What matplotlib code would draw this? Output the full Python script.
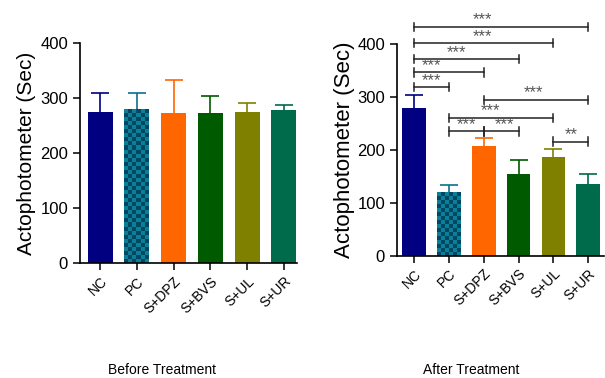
import numpy as np
import matplotlib
matplotlib.use("Agg")
import matplotlib.pyplot as plt

plt.rcParams['font.family'] = ['Liberation Sans', 'DejaVu Sans']

# Data
groups = ["NC", "PC", "S+DPZ", "S+BVS", "S+UL", "S+UR"]
before_mean = [275, 280, 272, 272, 275, 279]
before_err = [34, 30, 60, 31, 16, 9]
after_mean = [280, 120, 208, 155, 187, 135]
after_err = [24, 14, 14, 26, 15, 19]
bar_colors = ["#000080", "#0a6f8c", "#ff6600", "#005a00", "#808000", "#006b4a"]

# significance brackets on the after-treatment panel: (from, to, height, label, label position)
sig_from = [0, 0, 0, 0, 0, 2, 1, 1, 2, 4]
sig_to = [5, 4, 3, 2, 1, 5, 4, 2, 3, 5]
sig_y = [433, 402, 372, 347, 319, 295, 261, 235, 235, 216]
sig_text = ["***", "***", "***", "***", "***", "***", "***", "***", "***", "**"]
sig_pos = [1.95, 1.95, 1.21, 0.5, 0.5, 3.44, 2.2, 1.49, 2.58, 4.52]


def checker_fill(ax, bar, px_per_unit, cell_px=4.0):
    x0, w, h = bar.get_x(), bar.get_width(), bar.get_height()
    nx = 6
    ny = max(1, int(round(h * px_per_unit / cell_px)))
    grid = (np.indices((ny, nx)).sum(axis=0) % 2).astype(float)
    cmap = matplotlib.colors.ListedColormap(["#0b7e9a", "#00485f"])
    im = ax.imshow(grid, cmap=cmap, extent=(x0, x0 + w, 0, h), aspect="auto",
                   interpolation="nearest", zorder=2)
    im.set_clip_path(bar)


def draw_panel(ax, means, errs, xlim, px_per_unit, label_size):
    x = np.arange(len(groups))
    bars = ax.bar(x, means, width=0.68, color=bar_colors, linewidth=0, zorder=2)
    for i, b in enumerate(bars):
        eb = ax.errorbar(x[i], means[i], yerr=[[0], [errs[i]]], fmt="none",
                         ecolor=bar_colors[i], elinewidth=1.2, capsize=6.5, capthick=1.2, zorder=1)
        # only the upper cap is shown
        eb.lines[1][0].set_visible(False)
    checker_fill(ax, bars[1], px_per_unit)
    ax.set_xlim(*xlim)
    ax.set_ylim(0, 400)
    ax.set_yticks([0, 100, 200, 300, 400])
    ax.set_xticks(x)
    ax.set_xticklabels(groups, rotation=45, ha="right", rotation_mode="anchor", fontsize=10)
    ax.tick_params(axis="y", labelsize=12, length=5, width=1.1, direction="out")
    ax.tick_params(axis="x", length=5, width=1.1, direction="out", pad=3)
    ax.set_ylabel("Actophotometer (Sec)", fontsize=label_size)
    for s in ["top", "right"]:
        ax.spines[s].set_visible(False)
    for s in ["left", "bottom"]:
        ax.spines[s].set_linewidth(1.2)
    ax.set_facecolor("none")


fig = plt.figure(figsize=(6.05, 3.78), dpi=100)

ax1 = fig.add_axes([0.132, 0.3042, 0.359, 0.582])
draw_panel(ax1, before_mean, before_err, (-0.55, 5.36), 0.55, 15)
ax1.yaxis.set_label_coords(-0.2, 0.5)

ax2 = fig.add_axes([0.656, 0.3236, 0.342, 0.5592])
draw_panel(ax2, after_mean, after_err, (-0.50, 5.45), 0.528, 16)
ax2.yaxis.set_label_coords(-0.2, 0.5)

tick_h = 8
for a, b, y, t, p in zip(sig_from, sig_to, sig_y, sig_text, sig_pos):
    ax2.plot([a, b], [y, y], color="#222222", lw=1.1, clip_on=False, zorder=3)
    ax2.plot([a, a], [y - tick_h, y + tick_h], color="#222222", lw=1.1, clip_on=False, zorder=3)
    ax2.plot([b, b], [y - tick_h, y + tick_h], color="#222222", lw=1.1, clip_on=False, zorder=3)
    ax2.text(p, y + 13, t, ha="center", va="center", fontsize=12, color="#555555",
             clip_on=False)

fig.text(162 / 605, 1 - 370 / 378, "Before Treatment", ha="center", va="center", fontsize=10)
fig.text(471 / 605, 1 - 370 / 378, "After Treatment", ha="center", va="center", fontsize=10)

fig.savefig("out.png", dpi=100)
